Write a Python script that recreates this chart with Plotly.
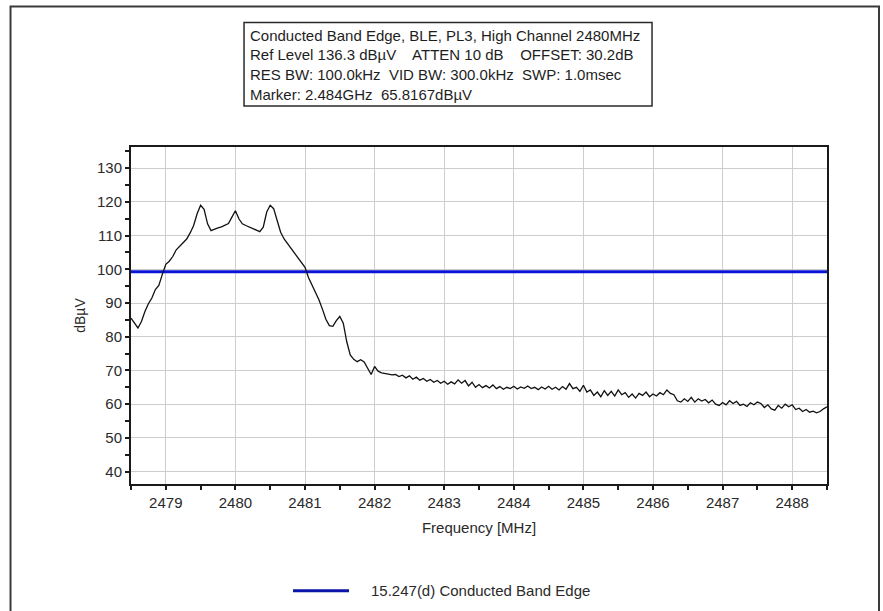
import plotly.graph_objects as go

# Sweep points of the spectrum analyser trace (MHz)
freq_mhz = [
    2478.50, 2478.55, 2478.60, 2478.65, 2478.70, 2478.75, 2478.80, 2478.85, 2478.90, 2478.95,
    2479.00, 2479.05, 2479.10, 2479.15, 2479.20, 2479.25, 2479.30, 2479.35, 2479.40, 2479.45,
    2479.50, 2479.55, 2479.60, 2479.65, 2479.70, 2479.75, 2479.80, 2479.85, 2479.90, 2479.95,
    2480.00, 2480.05, 2480.10, 2480.15, 2480.20, 2480.25, 2480.30, 2480.35, 2480.40, 2480.45,
    2480.50, 2480.55, 2480.60, 2480.65, 2480.70, 2480.75, 2480.80, 2480.85, 2480.90, 2480.95,
    2481.00, 2481.05, 2481.10, 2481.15, 2481.20, 2481.25, 2481.30, 2481.35, 2481.40, 2481.45,
    2481.50, 2481.55, 2481.60, 2481.65, 2481.70, 2481.75, 2481.80, 2481.85, 2481.90, 2481.95,
    2482.00, 2482.05, 2482.10, 2482.15, 2482.20, 2482.25, 2482.30, 2482.35, 2482.40, 2482.45,
    2482.50, 2482.55, 2482.60, 2482.65, 2482.70, 2482.75, 2482.80, 2482.85, 2482.90, 2482.95,
    2483.00, 2483.05, 2483.10, 2483.15, 2483.20, 2483.25, 2483.30, 2483.35, 2483.40, 2483.45,
    2483.50, 2483.55, 2483.60, 2483.65, 2483.70, 2483.75, 2483.80, 2483.85, 2483.90, 2483.95,
    2484.00, 2484.05, 2484.10, 2484.15, 2484.20, 2484.25, 2484.30, 2484.35, 2484.40, 2484.45,
    2484.50, 2484.55, 2484.60, 2484.65, 2484.70, 2484.75, 2484.80, 2484.85, 2484.90, 2484.95,
    2485.00, 2485.05, 2485.10, 2485.15, 2485.20, 2485.25, 2485.30, 2485.35, 2485.40, 2485.45,
    2485.50, 2485.55, 2485.60, 2485.65, 2485.70, 2485.75, 2485.80, 2485.85, 2485.90, 2485.95,
    2486.00, 2486.05, 2486.10, 2486.15, 2486.20, 2486.25, 2486.30, 2486.35, 2486.40, 2486.45,
    2486.50, 2486.55, 2486.60, 2486.65, 2486.70, 2486.75, 2486.80, 2486.85, 2486.90, 2486.95,
    2487.00, 2487.05, 2487.10, 2487.15, 2487.20, 2487.25, 2487.30, 2487.35, 2487.40, 2487.45,
    2487.50, 2487.55, 2487.60, 2487.65, 2487.70, 2487.75, 2487.80, 2487.85, 2487.90, 2487.95,
    2488.00, 2488.05, 2488.10, 2488.15, 2488.20, 2488.25, 2488.30, 2488.35, 2488.40, 2488.45,
    2488.50,
]

# Measured level at each sweep point (dBuV)
level_dbuv = [
    85.5, 84.0, 82.6, 84.5, 87.5, 89.8, 91.5, 94.0, 95.2, 98.5,
    101.5, 102.4, 103.8, 105.8, 106.8, 108.0, 109.0, 110.8, 113.0, 116.5,
    119.0, 117.8, 113.5, 111.5, 112.0, 112.3, 112.6, 113.0, 113.6, 115.5,
    117.4, 115.0, 113.5, 113.0, 112.6, 112.2, 111.6, 111.2, 112.5, 117.0,
    119.0, 118.0, 114.5, 111.0, 109.0, 107.6, 106.3, 105.0, 103.6, 102.3,
    100.6, 97.6, 95.5, 93.2, 91.0, 88.2, 85.2, 83.3, 83.1, 84.8,
    86.0, 84.0, 78.5, 74.6, 73.3, 72.6, 73.2, 72.5, 70.6, 68.8,
    71.2, 69.8, 69.3, 69.0, 68.9, 68.7, 68.8, 68.2, 68.6, 67.8,
    68.4, 67.4, 68.0, 67.1, 67.6, 66.8, 67.3, 66.5, 67.0, 66.2,
    66.8, 65.9, 66.6, 66.0, 67.2, 66.2, 67.0, 65.4, 66.5, 65.0,
    65.8, 64.9, 65.5, 64.8, 65.7, 64.6, 65.2, 64.4, 65.0, 64.6,
    65.3, 64.5, 65.1, 64.7, 65.4, 64.6, 65.0, 64.3, 65.1, 64.5,
    65.3, 64.4, 65.0, 64.2, 65.2, 64.4, 66.1, 64.6, 65.0, 63.8,
    65.6, 63.6, 64.2, 62.6, 63.6, 62.2, 64.0, 62.6, 63.8, 62.4,
    64.2, 62.8, 63.4, 62.0, 63.0, 61.8, 63.2, 62.6, 63.6, 62.2,
    63.0, 62.4, 63.4, 62.8, 64.2, 63.2, 62.8, 61.0, 60.6, 61.6,
    60.8, 62.0, 60.6, 61.6, 60.9, 61.4, 60.4, 61.2, 60.0, 59.6,
    60.5, 59.8, 61.0, 60.2, 60.8, 59.6, 60.0, 59.3, 60.4, 59.8,
    60.6, 60.2, 59.0, 59.8, 58.6, 58.2, 59.6, 58.8, 60.0, 59.2,
    59.8, 58.4, 58.8, 57.8, 58.4, 57.6, 57.9, 57.4, 57.8, 58.6,
    59.2,
]

# 15.247(d) limit (peak - 20 dB) and axis spans
limit_dbuv = 99.3
limit_name = "15.247(d) Conducted Band Edge"
x_span = [2478.5, 2488.5]
y_span = [36.3, 136.3]

header_lines = [
    "Conducted Band Edge, BLE, PL3, High Channel 2480MHz",
    "Ref Level 136.3 dBµV    ATTEN 10 dB    OFFSET: 30.2dB",
    "RES BW: 100.0kHz  VID BW: 300.0kHz  SWP: 1.0msec",
    "Marker: 2.484GHz  65.8167dBµV",
]

FONT = "Liberation Sans, Arial, sans-serif"
TXT = "#2a2a2a"

fig = go.Figure()

# limit line across the whole span
fig.add_trace(go.Scatter(
    x=x_span, y=[limit_dbuv, limit_dbuv], mode="lines",
    line=dict(color="#0a14d8", width=3), name=limit_name,
    showlegend=False, hoverinfo="skip",
))

# measured trace
fig.add_trace(go.Scatter(
    x=freq_mhz, y=level_dbuv, mode="lines",
    line=dict(color="#111111", width=1.3), name="Trace",
    showlegend=False,
))

axis_common = dict(
    showline=True, linecolor="#1a1a1a", linewidth=2, mirror=True,
    showgrid=True, gridcolor="#cdcdcd", gridwidth=1,
    ticks="outside", ticklen=4, tickwidth=1.5, tickcolor="#1a1a1a",
    tickfont=dict(family=FONT, size=15, color=TXT),
    zeroline=False,
)

fig.update_xaxes(
    range=x_span, tick0=2479, dtick=1,
    minor=dict(ticks="outside", ticklen=4, tickwidth=1.5, tickcolor="#1a1a1a",
               dtick=0.5, tick0=2478.5, showgrid=False),
    title=dict(text="Frequency [MHz]", font=dict(family=FONT, size=15, color=TXT), standoff=12),
    **axis_common,
)
fig.update_yaxes(
    range=y_span, tick0=40, dtick=10,
    minor=dict(ticks="outside", ticklen=4, tickwidth=1.5, tickcolor="#1a1a1a",
               dtick=5, tick0=40, showgrid=False),
    title=dict(text="dBµV", font=dict(family=FONT, size=14, color=TXT), standoff=8),
    **axis_common,
)

shapes = [
    # outer panel frame
    dict(type="rect", xref="paper", yref="paper",
         x0=-0.1731, x1=1.0747, y0=-0.40, y1=1.4169,
         line=dict(color="#3a3a3a", width=2), layer="below"),
    # header box
    dict(type="rect", xref="paper", yref="paper",
         x0=0.1624, x1=0.7486, y0=1.1217, y1=1.3694,
         line=dict(color="#2a2a2a", width=1.5), fillcolor="white"),
    # legend key
    dict(type="line", xref="paper", yref="paper",
         x0=0.2328, x1=0.3132, y0=-0.3166, y1=-0.3166,
         line=dict(color="#0a14a8", width=3)),
]

annotations = []
for i, line in enumerate(header_lines):
    annotations.append(dict(
        text=line, xref="paper", yref="paper", x=0.1681, y=1.3323 - i * 0.0593,
        xanchor="left", yanchor="middle", showarrow=False,
        font=dict(family=FONT, size=15, color="#1e1e1e"),
    ))
annotations.append(dict(
    text=limit_name, xref="paper", yref="paper", x=0.3420, y=-0.3166,
    xanchor="left", yanchor="middle", showarrow=False,
    font=dict(family=FONT, size=15, color=TXT),
))

fig.update_layout(
    width=883, height=611,
    margin=dict(l=131, r=56, t=147, b=127, autoexpand=False),
    paper_bgcolor="white", plot_bgcolor="white",
    shapes=shapes, annotations=annotations,
    showlegend=False,
)

fig.write_html("out.html")
